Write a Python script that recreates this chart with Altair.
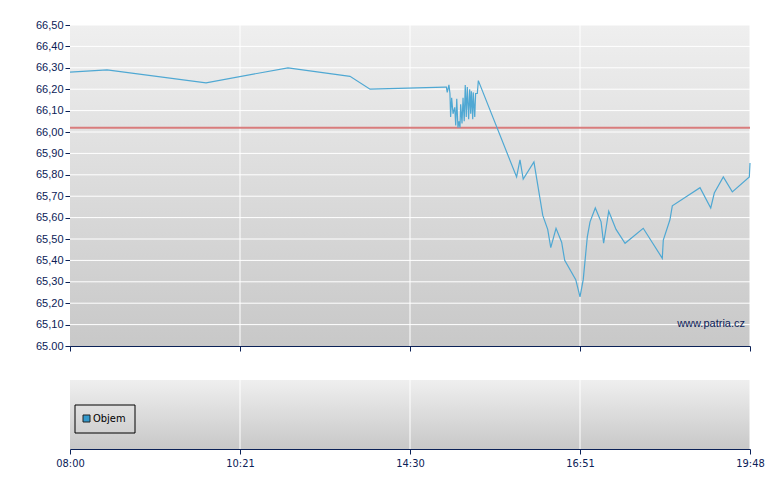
import altair as alt
import pandas as pd

# x position in axis units (0 = 08:00, 1 = 10:21, 2 = 14:30, 3 = 16:51, 4 = 19:48)
x_pos = [0, 0.218, 0.8, 1.282, 1.647, 1.765, 2.206, 2.214, 2.219, 2.229, 2.235, 2.239,
         2.245, 2.253, 2.263, 2.269, 2.275, 2.282, 2.288, 2.294, 2.298, 2.306, 2.312,
         2.319, 2.325, 2.331, 2.337, 2.345, 2.351, 2.357, 2.361, 2.369, 2.372, 2.381,
         2.386, 2.396, 2.402, 2.627, 2.647, 2.666, 2.729, 2.781, 2.81, 2.828, 2.859,
         2.892, 2.91, 2.975, 3.0, 3.019, 3.043, 3.059, 3.09, 3.124, 3.139, 3.169,
         3.212, 3.265, 3.372, 3.484, 3.49, 3.529, 3.543, 3.706, 3.769, 3.79, 3.843,
         3.896, 3.996, 4.0]
price = [66.28, 66.29, 66.23, 66.30, 66.26, 66.20, 66.21, 66.21, 66.185, 66.22, 66.18, 66.07,
         66.16, 66.085, 66.115, 66.03, 66.155, 66.02, 66.05, 66.02, 66.13, 66.04, 66.16,
         66.05, 66.22, 66.07, 66.21, 66.06, 66.20, 66.085, 66.19, 66.06, 66.185, 66.07,
         66.18, 66.18, 66.24, 65.79, 65.87, 65.78, 65.86, 65.61, 65.545, 65.46, 65.55,
         65.485, 65.40, 65.31, 65.23, 65.31, 65.51, 65.58, 65.645, 65.58, 65.48, 65.63,
         65.545, 65.48, 65.55, 65.41, 65.495, 65.59, 65.655, 65.74, 65.645, 65.715, 65.79,
         65.72, 65.79, 65.855]
prev_close = 66.02
x_ticks = [0, 1, 2, 3, 4]
x_labels = ["08:00", "10:21", "14:30", "16:51", "19:48"]
y_ticks = [65.0, 65.1, 65.2, 65.3, 65.4, 65.5, 65.6, 65.7, 65.8, 65.9,
           66.0, 66.1, 66.2, 66.3, 66.4, 66.5]
legend_label = "Objem"
watermark = "www.patria.cz"

NAVY = "#0b2157"
FONT = "Liberation Sans"
NARROW = "Liberation Sans Narrow, DejaVu Sans Condensed, sans-serif"

df = pd.DataFrame({"x": x_pos, "price": price, "i": range(len(price))})

grad = alt.Gradient(
    gradient="linear",
    stops=[alt.GradientStop(color="#efefef", offset=0),
           alt.GradientStop(color="#c8c8c8", offset=1)],
    x1=0, x2=0, y1=0, y2=1,
)

x_label_expr = " : ".join(
    [f"datum.value == {t} ? '{l}'" for t, l in zip(x_ticks, x_labels)]) + " : ''"

x_scale = alt.Scale(domain=[0, 4], nice=False, zero=False)
y_scale = alt.Scale(domain=[65.0, 66.5], nice=False, zero=False)

x_axis_top = alt.Axis(values=x_ticks, labels=False, title=None, grid=False,
                      domainColor=NAVY, tickColor=NAVY, tickSize=5, domainWidth=1)
y_axis = alt.Axis(values=y_ticks, title=None, grid=False, labelOverlap=False,
                  labelBound=False, labelFlush=False,
                  domainColor=NAVY, tickColor=NAVY, tickSize=5, labelColor=NAVY,
                  labelFont=FONT, labelFontSize=11, labelPadding=2,
                  labelExpr="datum.value == 65 ? '65.00' : replace(format(datum.value, '.2f'), '.', ',')")

one = pd.DataFrame({"a": [0]})
bg_top = alt.Chart(one).mark_rect(color=grad).encode(
    x=alt.value(0), x2=alt.value(680), y=alt.value(0), y2=alt.value(321))
hgrid = alt.Chart(pd.DataFrame({"v": y_ticks[1:]})).mark_rule(color="white", strokeWidth=1).encode(
    y=alt.Y("v:Q", scale=y_scale, axis=y_axis))
vgrid_df = pd.DataFrame({"x": x_ticks[1:]})
vgrid_top = alt.Chart(vgrid_df).mark_rule(color="white", strokeWidth=1).encode(
    x=alt.X("x:Q", scale=x_scale, axis=x_axis_top))

line = alt.Chart(df).mark_line(color="#4fa8d3", strokeWidth=1.2).encode(
    x=alt.X("x:Q", scale=x_scale, axis=x_axis_top),
    y=alt.Y("price:Q", scale=y_scale, axis=y_axis),
    order="i:Q",
)
ref = alt.Chart(pd.DataFrame({"v": [prev_close]})).mark_rule(
    color="#d97c7c", strokeWidth=2).encode(y=alt.Y("v:Q", scale=y_scale, axis=y_axis))
wm = alt.Chart(pd.DataFrame({"t": [watermark]})).mark_text(
    align="right", baseline="middle", font=FONT, fontSize=11, color=NAVY
).encode(text="t:N", x=alt.value(675), y=alt.value(299))

top = alt.layer(bg_top, hgrid, vgrid_top, ref, line, wm).properties(width=680, height=321)

x_axis_bot = alt.Axis(values=x_ticks, title=None, grid=False, labelOverlap=False,
                      domainColor=NAVY, tickColor=NAVY, tickSize=5, labelColor=NAVY,
                      labelFont=NARROW, labelFontSize=11, labelPadding=3,
                      labelExpr=x_label_expr, labelFlush=False)
bg_bot = alt.Chart(one).mark_rect(color=grad).encode(
    x=alt.value(0), x2=alt.value(680), y=alt.value(0), y2=alt.value(69))
vgrid_bot = alt.Chart(vgrid_df).mark_rule(color="white", strokeWidth=1).encode(
    x=alt.X("x:Q", scale=x_scale, axis=x_axis_bot))
leg_df = pd.DataFrame({"t": [legend_label]})
box = alt.Chart(leg_df).mark_rect(fillOpacity=0, stroke="black", strokeWidth=1).encode(
    x=alt.value(5), x2=alt.value(65), y=alt.value(25), y2=alt.value(53))
sw = alt.Chart(leg_df).mark_rect(fill="#3399cc", stroke="#222222", strokeWidth=1).encode(
    x=alt.value(13), x2=alt.value(20), y=alt.value(35), y2=alt.value(42))
txt = alt.Chart(leg_df).mark_text(align="left", baseline="middle", font=NARROW,
                                  fontSize=11, color="black").encode(
    text="t:N", x=alt.value(23), y=alt.value(39))

bottom = alt.layer(bg_bot, vgrid_bot, box, sw, txt).properties(width=680, height=69)

chart = alt.vconcat(top, bottom, spacing=27).properties(
    padding={"left": 27, "top": 11, "right": 5, "bottom": 5}
).configure_view(stroke=None)

chart.save("out.html", embed_options={"renderer": "svg", "actions": False})
